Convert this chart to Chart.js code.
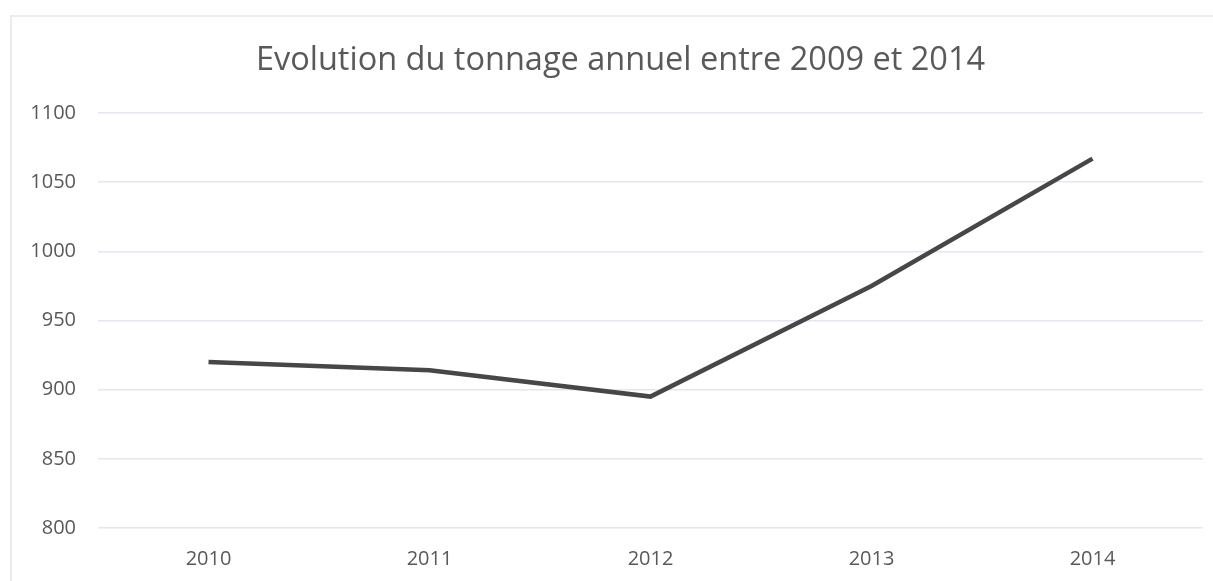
<!DOCTYPE html>
<html>
<head>
<meta charset="utf-8">
<script src="https://cdn.jsdelivr.net/npm/chart.js@4/dist/chart.umd.min.js"></script>
<style>
    html, body { margin: 0; padding: 0; background: #fff; }
    #wrap { position: relative; width: 1213px; height: 581px; overflow: hidden; }
    #frame {
        position: absolute; left: 10px; top: 15px; width: 1300px; height: 700px;
        border-left: 2px solid #ececec; border-top: 2px solid #ececec;
        pointer-events: none;
    }
</style>
</head>
<body>
<div id="wrap">
    <canvas id="chart" width="1213" height="581"></canvas>
    <div id="frame"></div>
</div>
<script>
// Tonnage annuel
const years = ['2010', '2011', '2012', '2013', '2014'];
const tonnage = [920, 914, 895, 975, 1067];
const yTicks = [800, 850, 900, 950, 1000, 1050, 1100];

const textColor = '#595959';
const fontFamily = '"Open Sans", "Noto Sans", sans-serif';

// the title in the original sits a little right of centre
const nudgeTitle = {
    id: 'nudgeTitle',
    afterLayout(chart) {
        if (chart.titleBlock) chart.titleBlock.left += 28;
    }
};

new Chart(document.getElementById('chart'), {
    type: 'line',
    data: {
        labels: years,
        datasets: [{
            label: 'Tonnage',
            data: tonnage,
            borderColor: '#474747',
            borderWidth: 4.5,
            pointRadius: 0,
            tension: 0,
            fill: false
        }]
    },
    options: {
        responsive: false,
        animation: false,
        layout: { padding: { top: 31, right: 10, bottom: 0, left: 10 } },
        plugins: {
            legend: { display: false },
            tooltip: { enabled: false },
            title: {
                display: true,
                text: 'Evolution du tonnage annuel entre 2009 et 2014',
                color: textColor,
                font: { family: fontFamily, size: 32.5, weight: 'normal' },
                padding: { top: 10, bottom: 33 }
            }
        },
        scales: {
            x: {
                offset: true,
                afterFit: axis => { axis.height = 53; },
                grid: { display: false, drawTicks: false },
                border: { display: false },
                ticks: { color: textColor, font: { family: fontFamily, size: 20 }, padding: 19 }
            },
            y: {
                min: 800,
                max: 1100,
                afterBuildTicks: axis => { axis.ticks = yTicks.map(v => ({ value: v })); },
                afterFit: axis => { axis.width = 88; },
                grid: { color: '#e6e6ee', lineWidth: 1.5, drawTicks: false },
                border: { display: false },
                ticks: {
                    color: textColor,
                    font: { family: fontFamily, size: 20 },
                    padding: 22,
                    callback: v => String(v)
                }
            }
        }
    },
    plugins: [nudgeTitle]
});
</script>
</body>
</html>
